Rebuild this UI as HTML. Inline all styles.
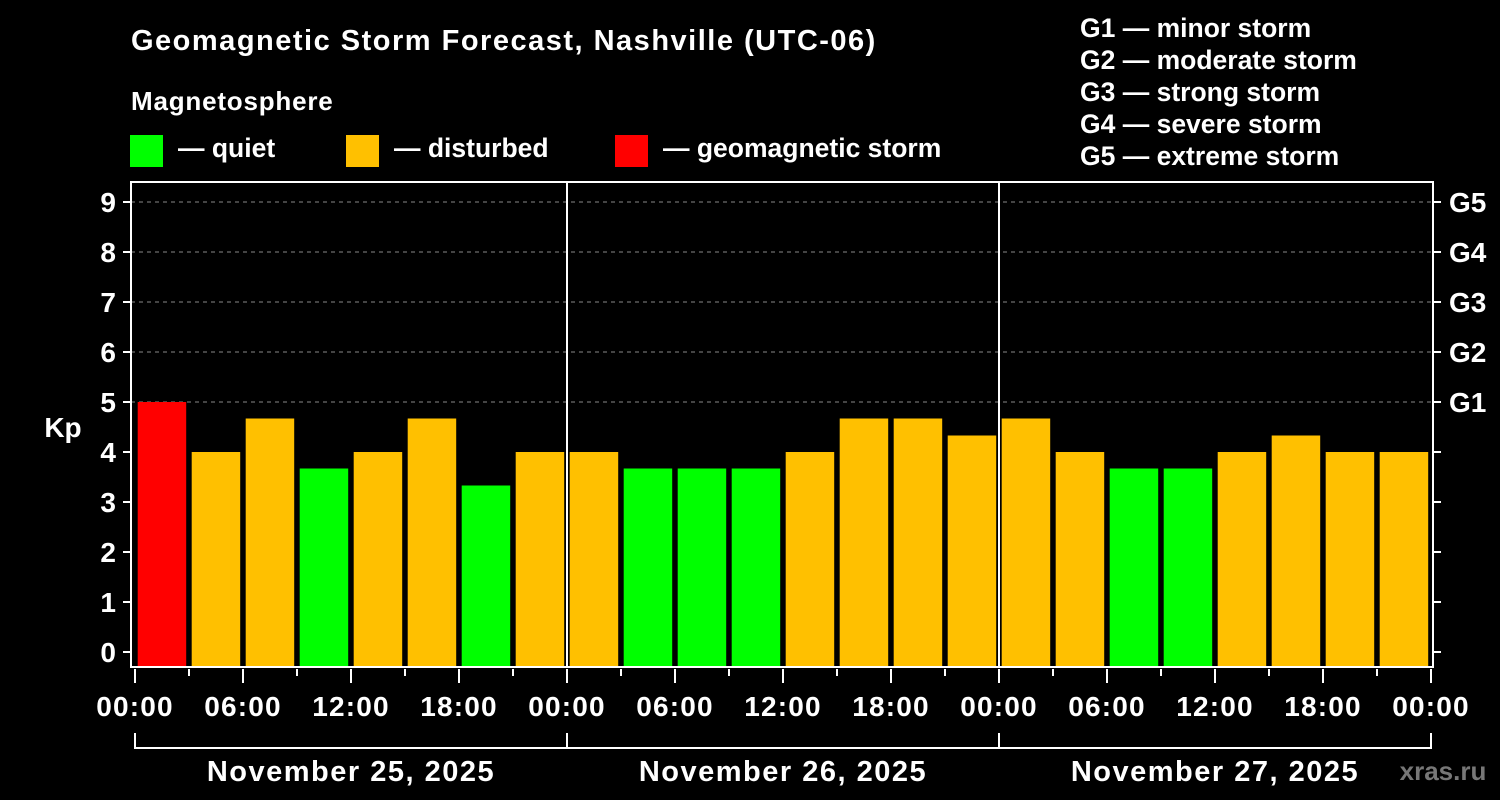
<!DOCTYPE html>
<html><head><meta charset="utf-8"><style>
html,body{margin:0;padding:0;background:#000;}
svg{display:block;font-family:"Liberation Sans",Arial,sans-serif;font-weight:bold;}
</style></head><body>
<svg id="chart" width="1500" height="800" viewBox="0 0 1500 800">
<rect width="1500" height="800" fill="#000"/>
<text x="131" y="50" fill="#fff" font-size="29" letter-spacing="1.5">Geomagnetic Storm Forecast, Nashville (UTC-06)</text>
<text x="131" y="110" fill="#fff" font-size="26" letter-spacing="0.8">Magnetosphere</text>
<g><rect x="130" y="135" width="33" height="32" fill="#00ff00"/><text x="178" y="157" fill="#fff" font-size="26.5">— quiet</text></g>
<g><rect x="346" y="135" width="33" height="32" fill="#ffc000"/><text x="394" y="157" fill="#fff" font-size="26.5">— disturbed</text></g>
<g><rect x="615" y="135" width="33" height="32" fill="#ff0000"/><text x="663" y="157" fill="#fff" font-size="26.5">— geomagnetic storm</text></g>
<g fill="#fff" font-size="26.5">
<text x="1080" y="37">G1 — minor storm</text>
<text x="1080" y="69">G2 — moderate storm</text>
<text x="1080" y="101">G3 — strong storm</text>
<text x="1080" y="133">G4 — severe storm</text>
<text x="1080" y="165">G5 — extreme storm</text>
</g>
<text x="63" y="437" fill="#fff" font-size="28" text-anchor="middle">Kp</text>
<text x="1443" y="780" fill="#777" font-size="26" text-anchor="middle">xras.ru</text>
<g id="grid"></g><g id="bars"></g><g id="axes"></g>
</svg>
<script>
const kpValues = [5,4,4.67,3.67,4,4.67,3.33,4, 4,3.67,3.67,3.67,4,4.67,4.67,4.33, 4.67,4,3.67,3.67,4,4.33,4,4];
const yTicks = [0,1,2,3,4,5,6,7,8,9];
const gLabels = ["G1","G2","G3","G4","G5"];
const gLevels = [5,6,7,8,9];
const xTickLabels = ["00:00","06:00","12:00","18:00","00:00","06:00","12:00","18:00","00:00","06:00","12:00","18:00","00:00"];
const dayLabels = ["November 25, 2025","November 26, 2025","November 27, 2025"];

const NS="http://www.w3.org/2000/svg";
const X0=135, X1=1431, Y0=652, PU=50;
const nSlots=kpValues.length, slotW=(X1-X0)/nSlots;
const x=i=>X0+i*slotW;
const y=v=>Y0-v*PU;
function mk(tag,attrs,parent){const e=document.createElementNS(NS,tag);for(const k in attrs)e.setAttribute(k,attrs[k]);parent.appendChild(e);return e;}
const grid=document.getElementById('grid'),bars=document.getElementById('bars'),axes=document.getElementById('axes');
const L=131,R=1433,T=182,B=667;
gLevels.forEach(v=>{const l=mk('line',{x1:L,x2:R,y1:y(v),y2:y(v),stroke:'#888','stroke-dasharray':'4,4','stroke-width':1},grid);

});
kpValues.forEach((v,i)=>{const c=v>=5?'#ff0000':(v>=4?'#ffc000':'#00ff00');
const r=mk('rect',{x:x(i)+2.7,y:y(v),width:slotW-5.5,height:B-y(v),fill:c},bars);

});
const f=mk('rect',{x:L,y:T,width:R-L,height:B-T,fill:'none',stroke:'#fff','stroke-width':2},axes);


for(let d=1;d<3;d++){const dl=mk('line',{x1:x(d*8),x2:x(d*8),y1:T,y2:B,stroke:'#fff','stroke-width':2},axes);

}
yTicks.forEach(v=>{
const t1=mk('line',{x1:L-8,x2:L,y1:y(v),y2:y(v),stroke:'#fff','stroke-width':2},axes);


const t2=mk('line',{x1:R,x2:R+8,y1:y(v),y2:y(v),stroke:'#fff','stroke-width':2},axes);


const tx=mk('text',{x:116,y:y(v)+10,fill:'#fff','font-size':28,'text-anchor':'end'},axes);tx.textContent=v;

});
gLevels.forEach((v,i)=>{const tx=mk('text',{x:1449,y:y(v)+10,fill:'#fff','font-size':28},axes);tx.textContent=gLabels[i];

});
for(let i=0;i<=nSlots;i++){const major=i%2==0;
const t=mk('line',{x1:x(i),x2:x(i),y1:B+2,y2:major?B+16:B+9,stroke:'#fff','stroke-width':2},axes);

}
xTickLabels.forEach((s,i)=>{const tx=mk('text',{x:x(i*2),y:716,fill:'#fff','font-size':28,'letter-spacing':1.2,'text-anchor':'middle'},axes);tx.textContent=s;

});
const bp=mk('polyline',{points:`${x(0)},733 ${x(0)},748 ${x(24)},748 ${x(24)},733`,fill:'none',stroke:'#fff','stroke-width':2},axes);


for(let d=1;d<3;d++){const bl=mk('line',{x1:x(d*8),x2:x(d*8),y1:733,y2:748,stroke:'#fff','stroke-width':2},axes);

}
dayLabels.forEach((s,d)=>{const tx=mk('text',{x:(x(d*8)+x(d*8+8))/2,y:781,fill:'#fff','font-size':29,'letter-spacing':1.5,'text-anchor':'middle'},axes);tx.textContent=s;

});
</script>
</body></html>
